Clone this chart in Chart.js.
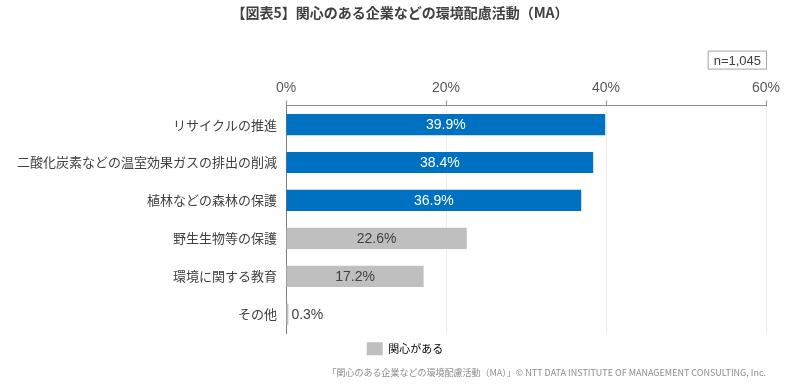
<!DOCTYPE html>
<html>
<head>
<meta charset="utf-8">
<script src="https://cdn.jsdelivr.net/npm/chart.js@4"></script>
<style>
html,body{margin:0;padding:0;background:#fff;}
#wrap{width:800px;height:392px;}
</style>
</head>
<body>
<div id="wrap"><canvas id="c" width="800" height="392"></canvas></div>
<script>
const categories = ["リサイクルの推進", "二酸化炭素などの温室効果ガスの排出の削減", "植林などの森林の保護", "野生生物等の保護", "環境に関する教育", "その他"];
const values = [39.9, 38.4, 36.9, 22.6, 17.2, 0.3];
const highlighted = [true, true, true, false, false, false];
const xTicks = [0, 20, 40, 60];
const seriesLabel = "関心がある";
const titleText = "【図表5】関心のある企業などの環境配慮活動（MA）";
const sampleText = "n=1,045";
const footerText = "「関心のある企業などの環境配慮活動（MA）」© NTT DATA INSTITUTE OF MANAGEMENT CONSULTING, Inc.";

const BLUE = "#0070C0", GRAY = "#BFBFBF";
const JP = '"Noto Sans CJK JP", "Liberation Sans", sans-serif';
const NUM = '"Liberation Sans", Arial, sans-serif';

const labelPlugin = {
  id: "valueLabels",
  afterLayout(chart) {
    // centre the title on the page and the legend slightly right, as in the source
    chart.titleBlock.right += 34;
    chart.legend.left += 10;
    chart.legend.right += 34;
  },
  afterDatasetsDraw(chart) {
    const ctx = chart.ctx;
    const meta = chart.getDatasetMeta(0);
    ctx.save();
    ctx.font = "14px " + NUM;
    ctx.textBaseline = "middle";
    meta.data.forEach((bar, i) => {
      const txt = values[i].toFixed(1) + "%";
      const w = bar.x - bar.base;
      if (w > 50) {
        ctx.fillStyle = highlighted[i] ? "#ffffff" : "#404040";
        ctx.textAlign = "center";
        ctx.fillText(txt, (bar.x + bar.base) / 2, bar.y + 1);
      } else {
        ctx.fillStyle = "#404040";
        ctx.textAlign = "left";
        ctx.fillText(txt, bar.x + 3, bar.y + 1);
      }
    });
    const a = chart.chartArea;
    ctx.font = "13px " + NUM;
    const tw = ctx.measureText(sampleText).width;
    const bw = tw + 12, bh = 19;
    const bx = a.right + 1 - bw, by = a.top - 55;
    ctx.fillStyle = "#fff";
    ctx.fillRect(bx, by, bw, bh);
    ctx.strokeStyle = "#a6a6a6";
    ctx.lineWidth = 1;
    ctx.strokeRect(bx + 0.5, by + 0.5, bw - 1, bh - 1);
    ctx.fillStyle = "#404040";
    ctx.textAlign = "center";
    ctx.fillText(sampleText, bx + bw / 2, by + bh / 2 + 1);
    ctx.restore();
  }
};

new Chart(document.getElementById("c"), {
  type: "bar",
  data: {
    labels: categories,
    datasets: [{
      label: seriesLabel,
      data: values,
      backgroundColor: values.map((v, i) => highlighted[i] ? BLUE : GRAY),
      borderWidth: 0,
      barPercentage: 0.56,
      categoryPercentage: 1.0
    }]
  },
  options: {
    indexAxis: "y",
    responsive: false,
    animation: false,
    devicePixelRatio: 1,
    layout: { padding: { left: 0, right: 34, top: 0, bottom: 0 } },
    scales: {
      x: {
        position: "top",
        min: 0, max: 60,
        afterBuildTicks(scale) { scale.ticks = xTicks.map(v => ({ value: v })); },
        ticks: {
          callback: v => v + "%",
          color: "#595959",
          font: { family: NUM, size: 14 },
          padding: 4
        },
        grid: { color: "#ececec", tickColor: "#8c8c8c", tickLength: 5, drawTicks: true },
        border: { color: "#8c8c8c", width: 1 }
      },
      y: {
        afterFit(scale) { scale.width = 286; },
        ticks: {
          color: "#404040",
          font: { family: JP, size: 13 },
          padding: 9
        },
        grid: { display: false, drawTicks: false },
        border: { color: "#7f7f7f", width: 1 }
      }
    },
    plugins: {
      title: {
        display: true,
        text: titleText,
        color: "#404040",
        font: { family: JP, size: 14, weight: "bold" },
        padding: { top: 4, bottom: 55 }
      },
      legend: {
        display: true,
        position: "bottom",
        labels: {
          generateLabels: () => [{ text: seriesLabel, fillStyle: GRAY, strokeStyle: GRAY, lineWidth: 0, hidden: false, datasetIndex: 0 }],
          boxWidth: 16, boxHeight: 13,
          color: "#404040",
          font: { family: JP, size: 11 },
          padding: 9
        }
      },
      subtitle: {
        display: true,
        position: "bottom",
        align: "end",
        text: footerText,
        color: "#8c8c8c",
        font: { family: JP, size: 9 },
        padding: { top: 2, bottom: 14 }
      },
      tooltip: { enabled: false }
    }
  },
  plugins: [labelPlugin]
});
</script>
</body>
</html>
